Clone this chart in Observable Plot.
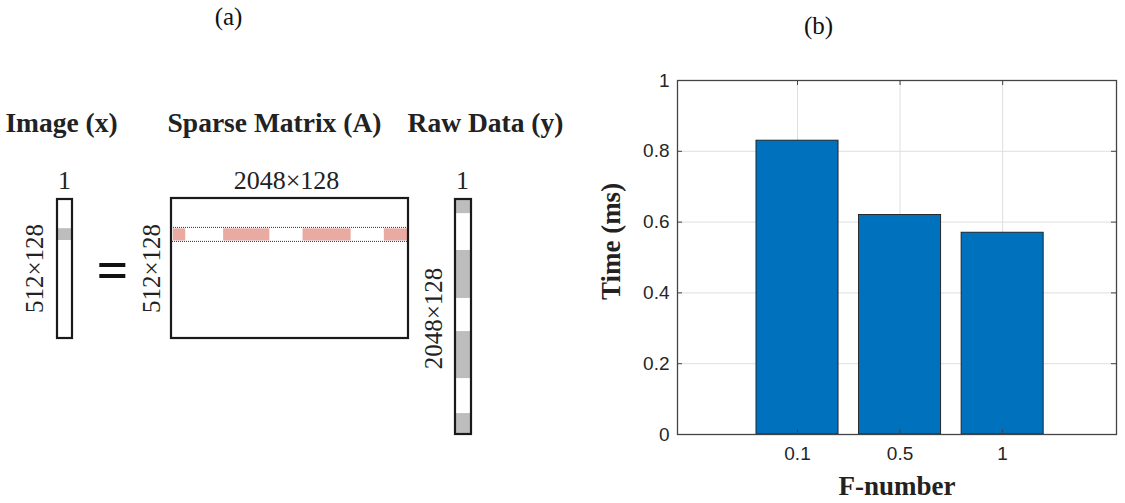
<!DOCTYPE html>
<html><head><meta charset="utf-8">
<script src="https://cdn.jsdelivr.net/npm/d3@7"></script>
<script src="https://cdn.jsdelivr.net/npm/@observablehq/plot@0.6"></script>
<style>
html,body{margin:0;padding:0;background:#fff;}
#wrap{display:flex;width:1125px;height:503px;overflow:hidden;}
#wrap svg{display:block;}
</style></head><body><div id="wrap"></div>
<script>
// ---------- DATA: panel (a) diagram ----------
const panelLabels = ["(a)", "(b)"];
const blockTitles = ["Image (x)", "Sparse Matrix (A)", "Raw Data (y)"];
const topDims = ["1", "2048×128", "1"];
const sideDims = ["512×128", "512×128", "2048×128"];
const equalsSign = ["="];
// shaded pieces along each vector / row, as fractions of its length
const imageShaded = [[0.21, 0.295]];
const rowBand = [0.21, 0.31];
const rowNonzero = [[0.008, 0.06], [0.22, 0.415], [0.555, 0.758], [0.898, 1.0]];
const rawShaded = [[0, 0.06], [0.217, 0.421], [0.562, 0.762], [0.911, 1.0]];

// ---------- DATA: panel (b) bar chart ----------
const fNumbers = ["0.1", "0.5", "1"];
const times = [0.83, 0.62, 0.57];
const yTicks = [0, 0.2, 0.4, 0.6, 0.8, 1];
const axisTitles = {x: "F-number", y: "Time (ms)"};

// ---------- LAYOUT ----------
const H = 503, W1 = 580, W2 = 545;
const serif = "'Liberation Serif', 'Times New Roman', serif";
const sans = "'Liberation Sans', Arial, Helvetica, sans-serif";
const boxes = {
  image:  {x1: 57,  x2: 72,  y1: 199, y2: 338},
  matrix: {x1: 171, x2: 408, y1: 198, y2: 338},
  raw:    {x1: 455, x2: 471, y1: 199, y2: 434}
};
const titleX = [61, 274, 485], titleY = 123;
const topDimPos = [{x: 64, y: 180}, {x: 286, y: 180}, {x: 462, y: 180}];
const sideDimPos = [{x: 34, y: 268}, {x: 151, y: 268}, {x: 433, y: 318}];
const equalsPos = {x: 112, y: 271};
const panelLabelPos = {x: 228, y: 16};

const vseg = (b, [a, c]) => ({x1: b.x1, x2: b.x2, y1: b.y1 + a * (b.y2 - b.y1), y2: b.y1 + c * (b.y2 - b.y1)});
const M = boxes.matrix;
const bandY1 = M.y1 + rowBand[0] * (M.y2 - M.y1), bandY2 = M.y1 + rowBand[1] * (M.y2 - M.y1);
const imageSegs = imageShaded.map(s => vseg(boxes.image, s));
const rawSegs = rawShaded.map(s => vseg(boxes.raw, s));
const pinkSegs = rowNonzero.map(([a, c]) => ({x1: M.x1 + a * (M.x2 - M.x1), x2: M.x1 + c * (M.x2 - M.x1), y1: bandY1 + 1, y2: bandY2 - 1}));
const outline = Object.values(boxes);

const left = Plot.plot({
  width: W1, height: H, margin: 0,
  x: {domain: [0, W1], range: [0, W1], axis: null},
  y: {domain: [0, H], range: [0, H], axis: null},
  style: {background: "white", fontFamily: serif, color: "#1a1a1a"},
  marks: [
    Plot.rect(imageSegs, {x1: "x1", x2: "x2", y1: "y1", y2: "y2", fill: "#bdbdbd"}),
    Plot.rect(rawSegs, {x1: "x1", x2: "x2", y1: "y1", y2: "y2", fill: "#bdbdbd"}),
    Plot.rect(pinkSegs, {x1: "x1", x2: "x2", y1: "y1", y2: "y2", fill: "#e8aaa1"}),
    Plot.rect([{x1: M.x1, x2: M.x2, y1: bandY1, y2: bandY2}], {x1: "x1", x2: "x2", y1: "y1", y2: "y2", fill: "none", stroke: "#333", strokeWidth: 1, strokeDasharray: "1,1"}),
    Plot.rect(outline, {x1: "x1", x2: "x2", y1: "y1", y2: "y2", fill: "none", stroke: "#1a1a1a", strokeWidth: 2.2}),
    Plot.text([panelLabels[0]], {x: panelLabelPos.x, y: panelLabelPos.y, text: d => d, fontSize: 25, fill: "#111"}),
    Plot.text(blockTitles, {x: (d, i) => titleX[i], y: titleY, text: d => d, fontSize: 27.5, fontWeight: "bold", fill: "#222"}),
    Plot.text(topDims, {x: (d, i) => topDimPos[i].x, y: (d, i) => topDimPos[i].y, text: d => d, fontSize: 26, fill: "#222"}),
    Plot.text(sideDims, {x: (d, i) => sideDimPos[i].x, y: (d, i) => sideDimPos[i].y, text: d => d, rotate: -90, fontSize: 25, fill: "#222"}),
    Plot.text(equalsSign, {x: equalsPos.x, y: equalsPos.y, text: d => d, fontSize: 56, fontWeight: "bold", fill: "#111"})
  ]
});

// ---------- panel (b) ----------
const bars = fNumbers.map((f, i) => ({f, pos: i + 1, time: times[i]}));
const positions = bars.map(d => d.pos);
const mL = 97, mR = 9, mT = 80, mB = 69;
const fw = W2 - mL - mR, fh = H - mT - mB, tk = 5;
const right = Plot.plot({
  width: W2, height: H, marginLeft: mL, marginRight: mR, marginTop: mT, marginBottom: mB,
  style: {background: "white", fontFamily: sans, fontSize: "19px", color: "#262626"},
  x: {domain: [-0.17, 4.11]},
  y: {domain: [0, 1]},
  marks: [
    Plot.gridY(yTicks, {stroke: "#dfdfdf", strokeOpacity: 1}),
    Plot.gridX(positions, {stroke: "#dfdfdf", strokeOpacity: 1}),
    Plot.rect(bars, {x1: d => d.pos - 0.4, x2: d => d.pos + 0.4, y1: 0, y2: "time", fill: "#0072BD", stroke: "#1c1c1c", strokeWidth: 0.9}),
    Plot.frame({stroke: "#444", strokeWidth: 1.3}),
    Plot.ruleY(yTicks, {insetRight: fw - tk, stroke: "#444"}),
    Plot.ruleY(yTicks, {insetLeft: fw - tk, stroke: "#444"}),
    Plot.ruleX(positions, {insetTop: fh - tk, stroke: "#444"}),
    Plot.ruleX(positions, {insetBottom: fh - tk, stroke: "#444"}),
    Plot.axisY(yTicks, {tickSize: 0, tickPadding: 8, tickFormat: d => String(d), label: null, fontSize: 19}),
    Plot.axisX(positions, {tickSize: 0, tickPadding: 12, tickFormat: p => fNumbers[p - 1], label: null, fontSize: 19}),
    Plot.text([axisTitles.y], {frameAnchor: "left", textAnchor: "middle", dx: -66, dy: -16, rotate: -90, text: d => d, fontFamily: serif, fontWeight: "bold", fontSize: 27, fill: "#222"}),
    Plot.text([axisTitles.x], {frameAnchor: "bottom", dx: 0, dy: 60, text: d => d, fontFamily: serif, fontWeight: "bold", fontSize: 27, fill: "#222"}),
    Plot.text([panelLabels[1]], {frameAnchor: "top-left", textAnchor: "middle", dx: 141, dy: -64, text: d => d, fontFamily: serif, fontSize: 25, fill: "#111"})
  ]
});

const wrap = document.getElementById("wrap");
wrap.appendChild(left);
wrap.appendChild(right);
</script>
</body></html>
